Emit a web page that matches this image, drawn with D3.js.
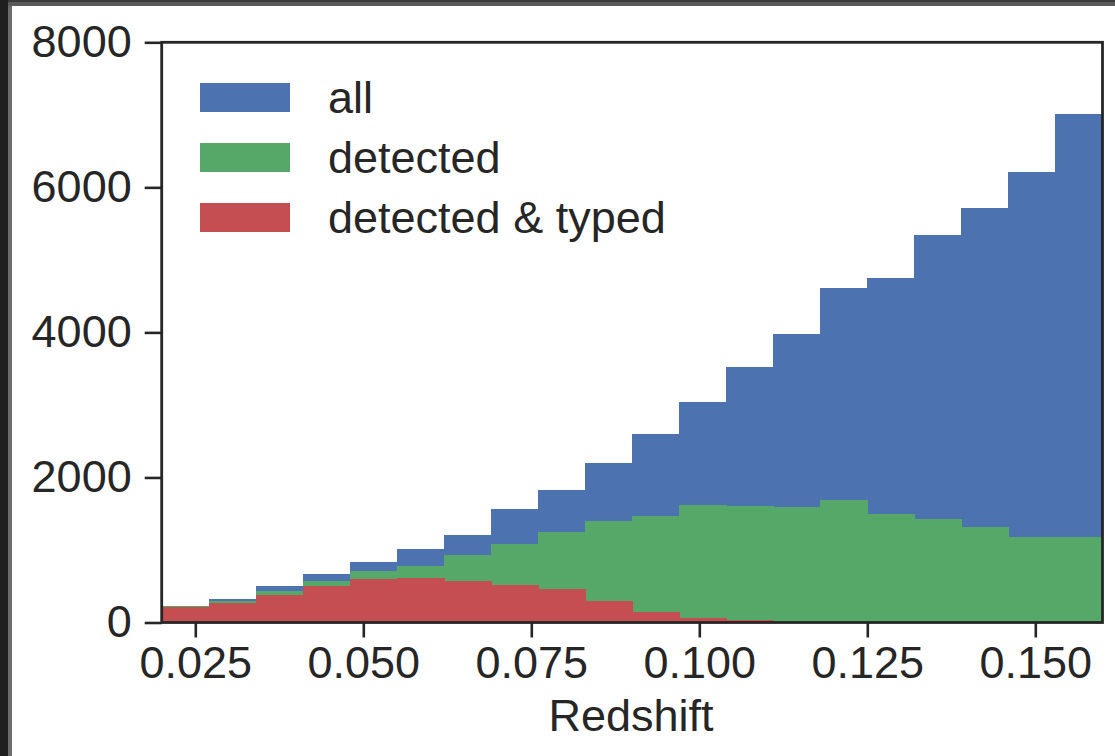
<!DOCTYPE html>
<html>
<head>
<meta charset="utf-8">
<script src="https://cdn.jsdelivr.net/npm/d3@7"></script>
<style>
  html, body { margin: 0; padding: 0; background: #fff; }
  svg { display: block; }
  text { font-family: "Liberation Sans", Arial, sans-serif; fill: #262626; }
</style>
</head>
<body>
<svg id="chart" width="1115" height="756"></svg>
<script>
// bin edges of the redshift histogram
var edges = [0.020, 0.027, 0.034, 0.041, 0.048, 0.055, 0.062, 0.069, 0.076, 0.083, 0.090,
             0.097, 0.104, 0.111, 0.118, 0.125, 0.132, 0.139, 0.146, 0.153, 0.160];
var allCounts      = [230, 325, 503, 665, 838, 1013, 1207, 1565, 1827, 2204, 2600, 3045, 3519, 3974, 4609, 4750, 5337, 5712, 6208, 7012];
var detectedCounts = [225, 300, 438, 576, 714, 783, 935, 1083, 1244, 1404, 1469, 1616, 1610, 1597, 1689, 1496, 1427, 1313, 1183, 1180];
var typedCounts    = [215, 275, 379, 508, 596, 618, 576, 517, 458, 296, 149, 58, 34, 8, 0, 0, 0, 0, 0, 0];
var seriesNames = ["all", "detected", "detected & typed"];
var seriesColors = ["#4c72b0", "#55a868", "#c44e52"];
var xTicks = [0.025, 0.050, 0.075, 0.100, 0.125, 0.150];
var yTicks = [0, 2000, 4000, 6000, 8000];

var svg = d3.select("#chart");
var fontSize = "45px";

// screenshot frame
svg.append("rect").attr("x",0).attr("y",0).attr("width",1115).attr("height",6).attr("fill","#5a5a5a");
svg.append("rect").attr("x",0).attr("y",0).attr("width",1115).attr("height",2).attr("fill","#3a3a3a");
svg.append("rect").attr("x",0).attr("y",0).attr("width",8).attr("height",756).attr("fill","#1f1f1f");
svg.append("rect").attr("x",8).attr("y",6).attr("width",4).attr("height",750).attr("fill","#6b6b6b");

var plotL = 161.7, plotR = 1102.5, plotT = 42.3, plotB = 622.5;

var x = d3.scaleLinear().domain([0.02, 0.16]).range([plotL, plotR]);
var y = d3.scaleLinear().domain([0, 8000]).range([plotB, plotT]);

var series = [allCounts, detectedCounts, typedCounts];
var plot = svg.append("g").attr("shape-rendering","crispEdges");
series.forEach(function(vals, s){
	plot.append("g").selectAll("rect")
		.data(vals)
		.enter().append("rect")
		.attr("x", function(d,i){ return x(edges[i]); })
		.attr("width", function(d,i){ return x(edges[i+1]) - x(edges[i]) + 0.6; })
		.attr("y", function(d){ return y(d); })
		.attr("height", function(d){ return y(0) - y(d); })
		.attr("fill", seriesColors[s]);
});

// axes
var xAxis = d3.axisBottom(x).tickValues(xTicks).tickFormat(d3.format(".3f")).tickSize(15).tickPadding(9);
var yAxis = d3.axisLeft(y).tickValues(yTicks).tickFormat(d3.format("d")).tickSize(17).tickPadding(13);

var gx = svg.append("g").attr("transform","translate(0,"+plotB+")").call(xAxis);
var gy = svg.append("g").attr("transform","translate("+plotL+",0)").call(yAxis);
[gx, gy].forEach(function(g){
	g.select(".domain").remove();
	g.selectAll("line").attr("stroke","#262626").attr("stroke-width",2.6);
	g.selectAll("text").style("font-size",fontSize).attr("fill","#262626");
});

// frame of the axes
svg.append("rect")
	.attr("x", plotL).attr("y", plotT)
	.attr("width", plotR-plotL).attr("height", plotB-plotT)
	.attr("fill","none").attr("stroke","#262626").attr("stroke-width",2.8);

svg.append("text")
	.attr("x", 631).attr("y", 731)
	.attr("text-anchor","middle")
	.style("font-size",fontSize)
	.text("Redshift");

// legend
var legend = svg.append("g");
seriesNames.forEach(function(name, i){
	legend.append("rect")
		.attr("x", 200).attr("y", 83 + i*60)
		.attr("width", 90).attr("height", 29)
		.attr("fill", seriesColors[i]);
	legend.append("text")
		.attr("x", 328).attr("y", 97.5 + i*60)
		.attr("dy","0.35em")
		.style("font-size",fontSize)
		.text(name);
});
</script>
</body>
</html>
